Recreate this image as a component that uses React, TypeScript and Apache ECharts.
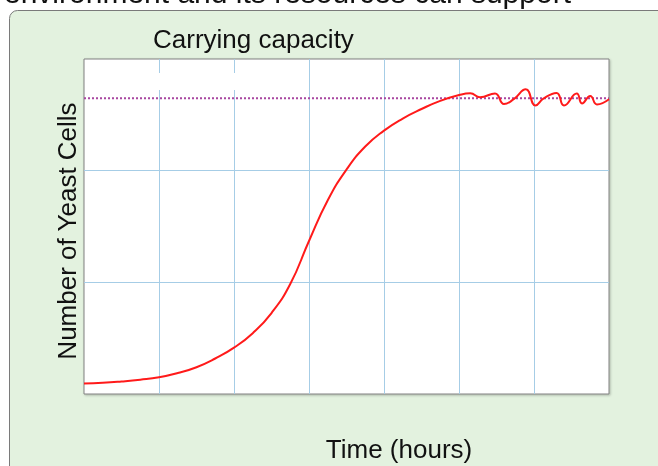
import React, { useEffect, useRef } from "react";
import * as echarts from "echarts";

// Time (hours, in grid units 0..7) and number of yeast cells (in grid units 0..3)
const timeValues = [
  0, 0.25, 0.5, 0.75, 1.0, 1.25, 1.5, 1.75, 2.0, 2.25, 2.5, 2.75, 3.0, 3.25, 3.5, 3.75, 4.0, 4.25, 4.5, 4.75, 5.0, 5.15,
  5.28, 5.48, 5.6, 5.73, 5.89, 6.02, 6.13, 6.3, 6.4, 6.57, 6.64, 6.75, 6.84, 7.0,
];
const cellValues = [
  0.094, 0.1, 0.112, 0.128, 0.15, 0.188, 0.24, 0.318, 0.415, 0.545, 0.725, 0.985, 1.37, 1.735, 2.01, 2.216, 2.359, 2.467, 2.552, 2.625, 2.677, 2.693,
  2.658, 2.691, 2.597, 2.64, 2.729, 2.584, 2.648, 2.696, 2.584, 2.691, 2.602, 2.669, 2.593, 2.639,
];
const carryingCapacity = 2.648;
const timeRange = [0, 7];
const cellRange = [0, 3];

const topText = "environment and its resources can support";
const capacityLabel = "Carrying capacity";
const yLabel = "Number of Yeast Cells";
const xLabel = "Time (hours)";

export default function App() {
  const ref = useRef<HTMLDivElement>(null);
  useEffect(() => {
    if (!ref.current) return;
    const chart = echarts.init(ref.current, null, { renderer: "svg" });
    const font = "'Liberation Sans', Arial, sans-serif";
    chart.setOption({
      animation: false,
      grid: {
        left: 84,
        top: 59,
        width: 525,
        height: 335,
        show: true,
        backgroundColor: "#ffffff",
        borderColor: "#808080",
        borderWidth: 1,
        shadowColor: "rgba(0,0,0,0.25)",
        shadowBlur: 2,
        shadowOffsetX: 1,
        shadowOffsetY: 1,
      },
      xAxis: {
        type: "value",
        min: timeRange[0],
        max: timeRange[1],
        interval: 1,
        axisLine: { show: false },
        axisTick: { show: false },
        axisLabel: { show: false },
        splitLine: { show: true, showMinLine: false, showMaxLine: false, lineStyle: { color: "#a6cde6", width: 1 } },
      },
      yAxis: {
        type: "value",
        min: cellRange[0],
        max: cellRange[1],
        interval: 1,
        axisLine: { show: false },
        axisTick: { show: false },
        axisLabel: { show: false },
        splitLine: { show: true, showMinLine: false, showMaxLine: false, lineStyle: { color: "#a6cde6", width: 1 } },
      },
      series: [
        {
          type: "line",
          data: timeRange.map((t) => [t, carryingCapacity]),
          symbol: "none",
          lineStyle: { color: "#a846a0", width: 2, type: [2, 2] },
          z: 3,
        },
        {
          type: "line",
          data: timeValues.map((t, i) => [t, cellValues[i]]),
          smooth: 0.5,
          symbol: "none",
          lineStyle: { color: "#ff1a1a", width: 2 },
          z: 4,
        },
      ],
      graphic: [
        {
          type: "rect",
          z: -100,
          shape: { x: 9.5, y: 10.5, width: 720, height: 520, r: 8 },
          style: { fill: "#e3f2df", stroke: "#7a7a7a", lineWidth: 1 },
        },
        {
          type: "text",
          z: -50,
          x: 4,
          y: 7,
          style: { text: topText, font: `30px ${font}`, fill: "#111", verticalAlign: "bottom" },
        },
        {
          type: "rect",
          z: 100,
          shape: { x: 157.5, y: 73, width: 4, height: 17 },
          style: { fill: "#ffffff" },
        },
        {
          type: "rect",
          z: 100,
          shape: { x: 232.5, y: 73, width: 4, height: 17 },
          style: { fill: "#ffffff" },
        },
        {
          type: "text",
          x: 153,
          y: 39,
          style: { text: capacityLabel, font: `26px ${font}`, fill: "#111", verticalAlign: "middle" },
        },
        {
          type: "text",
          x: 67,
          y: 231,
          rotation: Math.PI / 2,
          style: { text: yLabel, font: `26px ${font}`, fill: "#111", align: "center", verticalAlign: "middle" },
        },
        {
          type: "text",
          x: 399,
          y: 449,
          style: { text: xLabel, font: `26px ${font}`, fill: "#111", align: "center", verticalAlign: "middle" },
        },
      ],
    });
    return () => chart.dispose();
  }, []);
  return <div ref={ref} style={{ position: "fixed", left: 0, top: 0, width: 658, height: 466 }} />;
}
